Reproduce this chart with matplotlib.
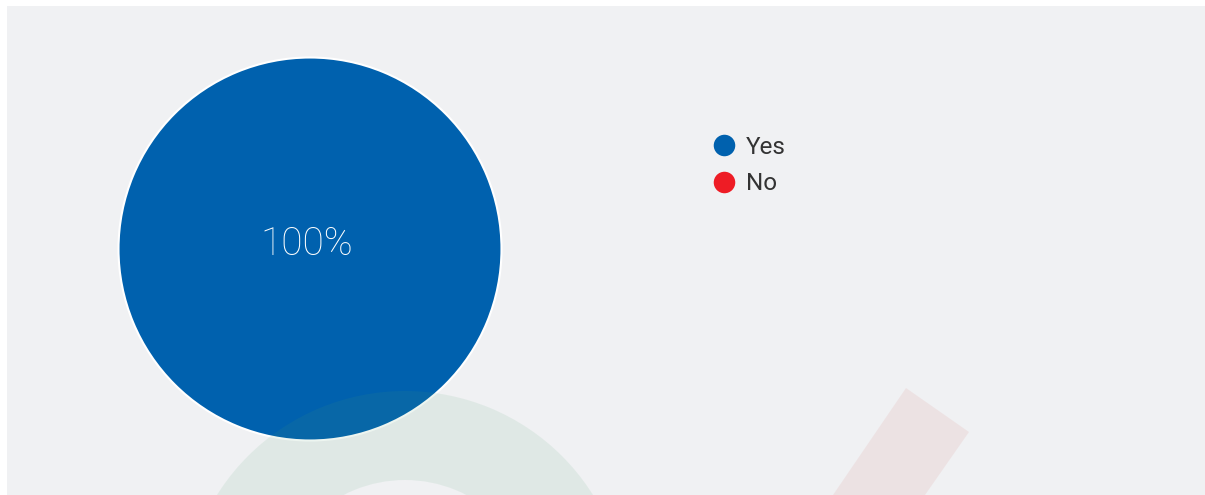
import matplotlib.pyplot as plt
from matplotlib.lines import Line2D
from matplotlib.patches import Rectangle, Wedge, Polygon

# respuestas de la encuesta
etiquetas = ["Yes", "No"]
valores = [100, 0]
colores = ["#0061ae", "#ee1c25"]

W, H = 1205, 495
fig = plt.figure(figsize=(W / 100, H / 100), dpi=100, facecolor="white")

# fondo gris (coordenadas en pixeles)
fondo = fig.add_axes([0, 0, 1, 1], zorder=0)
fondo.set_xlim(0, W)
fondo.set_ylim(H, 0)
fondo.axis("off")
fondo.add_patch(Rectangle((7, 6), W - 7, H - 6, facecolor="#f0f1f3", edgecolor="none"))

# pastel
ax = fig.add_axes([(310 - 191.5) / W, (246 - 191.5) / H, 383 / W, 383 / H], zorder=1)


def formato_pct(p):
    return f"{p:.0f}%" if p > 0 else ""


cunas, _, textos = ax.pie(
    valores, colors=colores, autopct=formato_pct, pctdistance=0.0,
    startangle=90, counterclock=False,
    wedgeprops=dict(edgecolor="white", linewidth=1.5),
    textprops=dict(color="white", fontsize=28, family="Roboto", fontweight="light"),
)
for cuna, v in zip(cunas, valores):
    if v == 0:
        cuna.set_linewidth(0)
for t in textos:
    # subir un poco la etiqueta
    x, y = t.get_position()
    t.set_position((x - 0.015, y + 0.025))
ax.set_xlim(-1, 1)
ax.set_ylim(-1, 1)
ax.set_aspect("equal")

# marca de agua encima con transparencia
marca = fig.add_axes([0, 0, 1, 1], zorder=2)
marca.set_xlim(0, W)
marca.set_ylim(H, 0)
marca.axis("off")
marca.patch.set_alpha(0)
marca.add_patch(Wedge((405, 613), 222, 0, 360, width=89, facecolor=(80/255, 161/255, 113/255),
                      edgecolor="none", alpha=0.1))
marca.add_patch(Polygon([(906, 388), (969, 432), (925, 495), (833, 495)],
                        facecolor=(210/255, 101/255, 93/255), edgecolor="none", alpha=0.1))

# leyenda
manejadores = [Line2D([], [], marker="o", linestyle="none", markersize=15.5,
                      markerfacecolor=c, markeredgecolor="none") for c in colores]
fig.legend(manejadores, etiquetas, loc="upper left", bbox_to_anchor=(712 / W, 1 - 136 / H),
           frameon=False, handlelength=1.0, handletextpad=0.38, labelspacing=0.55,
           borderpad=0, borderaxespad=0,
           prop=dict(family="Roboto", size=17.5), labelcolor="#333333")

fig.savefig("out.png", dpi=100, facecolor="white")
